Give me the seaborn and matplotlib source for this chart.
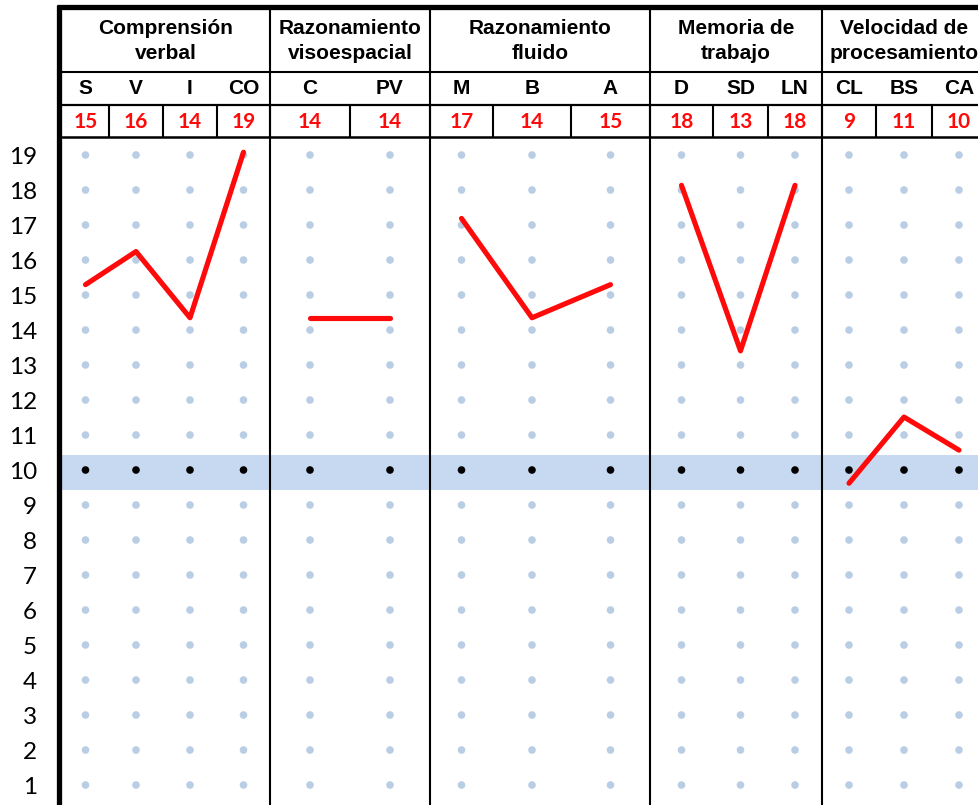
import numpy as np
import pandas as pd
import matplotlib
matplotlib.use("Agg")
import matplotlib.pyplot as plt
import seaborn as sns

# ---------------- data ----------------
groups = ["Comprensión\nverbal", "Razonamiento\nvisoespacial", "Razonamiento\nfluido",
          "Memoria de\ntrabajo", "Velocidad de\nprocesamiento"]
subtests = ["S", "V", "I", "CO", "C", "PV", "M", "B", "A", "D", "SD", "LN", "CL", "BS", "CA"]
scores = [15, 16, 14, 19, 14, 14, 17, 14, 15, 18, 13, 18, 9, 11, 10]
subtest_group = [0, 0, 0, 0, 1, 1, 2, 2, 2, 3, 3, 3, 4, 4, 4]
scale_levels = list(range(1, 20))
mean_level = 10

# ---------------- layout ----------------
W, H = 979, 805
col_widths = [47, 54, 54, 53, 80, 80, 63, 78, 79, 63, 55, 54, 54, 56, 54]
x0 = 62
plot_top = 138
edges = x0 + np.concatenate([[0], np.cumsum(col_widths)])
centers = (edges[:-1] + edges[1:]) / 2

sns.set_theme(style="white")
plt.rcParams["font.family"] = ["Lato", "DejaVu Sans"]
header_font = ["Liberation Sans", "DejaVu Sans"]

RED = "#FF0A0A"
DOT = "#B9CDE4"
BAND = "#C6D9F0"

fig = plt.figure(figsize=(W / 100, H / 100), dpi=100)
fig.patch.set_facecolor("white")

ax = fig.add_axes([x0 / W, 0, (W - x0) / W, (H - plot_top) / H])
ax.set_xlim(x0, W)
ax.set_ylim(0.429, 19.486)
for s in ax.spines.values():
    s.set_visible(False)
ax.set_xticks([])
ax.set_yticks(scale_levels)
ax.set_yticklabels([str(v) for v in scale_levels], fontsize=17.5, color="black")
ax.tick_params(axis="y", length=0, pad=18)

# mean band
ax.axhspan(mean_level - 0.56, mean_level + 0.44, color=BAND, zorder=0, lw=0)

# dot grid
grid = pd.DataFrame([(centers[i], lv, "mean" if lv == mean_level else "other")
                     for i in range(len(subtests)) for lv in scale_levels],
                    columns=["x", "level", "kind"])
sns.scatterplot(data=grid, x="x", y="level", hue="kind",
                palette={"mean": "black", "other": DOT}, s=30, linewidth=0,
                legend=False, ax=ax, zorder=2)
ax.set_xlabel("")
ax.set_ylabel("")

# score lines (overlaid on a slightly mis-registered secondary scale, as in the original)
ax2 = ax.twinx()
ax2.set_xlim(x0, W)
ax2.set_ylim(-0.72, 19.43)
lines = pd.DataFrame({"x": centers, "score": scores, "group": subtest_group})
sns.lineplot(data=lines, x="x", y="score", units="group", estimator=None, sort=False,
             color=RED, lw=3.7, ax=ax2, zorder=3)
ax2.set_axis_off()

# ---------------- header / frame overlay ----------------
ov = fig.add_axes([0, 0, 1, 1], zorder=5)
ov.set_xlim(0, W)
ov.set_ylim(H, 0)
ov.set_axis_off()
ov.patch.set_alpha(0)

bounds = [edges[i] for i in range(1, len(subtests)) if subtest_group[i] != subtest_group[i - 1]]
g_edges = [edges[0]] + bounds + [edges[-1]]

# horizontal rules
ov.plot([x0, W], [72, 72], color="black", lw=1.5)
ov.plot([x0, W], [105, 105], color="black", lw=1.6)
ov.plot([x0, W], [137, 137], color="black", lw=1.8)
# group separators
for b in bounds:
    ov.plot([b, b], [10, H], color="black", lw=1.5)
# score-cell separators
for e in edges[1:-1]:
    ov.plot([e, e], [105, 137], color="black", lw=1.5)
# thick frame
ov.plot([57, W], [7.5, 7.5], color="black", lw=3.8, solid_capstyle="butt")
ov.plot([59.5, 59.5], [5, H], color="black", lw=3.8, solid_capstyle="butt")

for gi, name in enumerate(groups):
    cx = (g_edges[gi] + g_edges[gi + 1]) / 2
    ov.text(cx, 41, name, ha="center", va="center", fontsize=15, fontweight="bold",
            family=header_font, linespacing=1.38, color="black")
for i, lab in enumerate(subtests):
    ov.text(centers[i], 89, lab, ha="center", va="center", fontsize=15, fontweight="bold",
            family=header_font, color="black")
    ov.text(centers[i], 122, str(scores[i]), ha="center", va="center", fontsize=15,
            fontweight="bold", color=RED)

fig.savefig("out.png", dpi=100)
